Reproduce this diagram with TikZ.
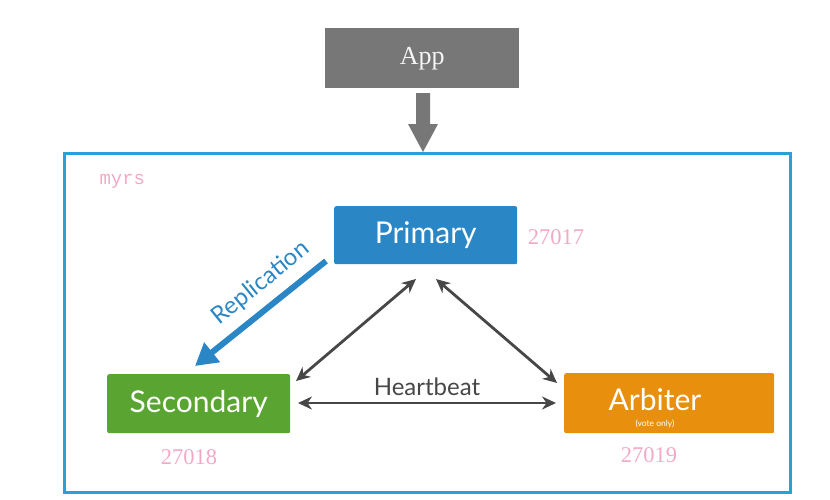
\documentclass[tikz,border=0pt]{standalone}
\usepackage{fontspec}
\setmainfont{Liberation Serif}
\newfontfamily\gill{Lato}
\newfontfamily\monof{Liberation Mono}
\usetikzlibrary{arrows.meta}
\definecolor{appgray}{HTML}{777777}
\definecolor{frameblue}{HTML}{2A9FD8}
\definecolor{primblue}{HTML}{2B86C5}
\definecolor{secgreen}{HTML}{5AA532}
\definecolor{arbor}{HTML}{E8900E}
\definecolor{portpink}{HTML}{F2A9C6}
\definecolor{hbgray}{HTML}{474747}
\tikzset{
  member/.style={rounded corners=2pt, text=white, font=\gill\fontsize{30}{32}\selectfont, inner sep=0pt, anchor=north west},
  port/.style={text=portpink, font=\fontsize{22.5}{24}\selectfont},
  hb/.style={draw=hbgray, line width=2.8pt, {Stealth[length=14pt,width=13pt]}-{Stealth[length=14pt,width=13pt]}}
}
\begin{document}
\begin{tikzpicture}[x=1pt,y=-1pt]
\useasboundingbox (0,0) rectangle (830,499);
% outer frame
\draw[frameblue, line width=3pt] (64,153) rectangle (790,492);
\node[anchor=west, text=portpink, font=\monof\fontsize{19}{21}\selectfont] (rs) at (96,181) {myrs};
% App
\node[fill=appgray, minimum width=194pt, minimum height=60pt, anchor=north west, inner sep=0pt, text=white!92!gray, font=\fontsize{26}{28}\selectfont] (app) at (325,28) {App};
\coordinate (frametop) at (423,152);
\fill[appgray] (416,93) -- (430,93) -- (430,124) -- (438,124) -- (423,152) -- (408,124) -- (416,124) -- cycle;
% members
\node[member, fill=primblue, minimum width=183pt, minimum height=58pt] (p) at (334,206) {Primary};
\node[member, fill=secgreen, minimum width=183pt, minimum height=59pt] (s) at (107,374) {Secondary};
\node[member, fill=arbor, minimum width=210pt, minimum height=60pt] (a) at (564,373) {};
\node[text=white, font=\gill\fontsize{30}{32}\selectfont] (at) at (655,400) {Arbiter};
\node[text=white, font=\gill\fontsize{8.5}{9}\selectfont] (av) at (655,424) {(vote only)};
% ports
\node[port] (p1) at (556,237) {27017};
\node[port] (p2) at (189,457) {27018};
\node[port] (p3) at (649,455) {27019};
% heartbeat arrows
\coordinate (pl) at (416,279);
\coordinate (pr) at (436,279);
\coordinate (sl) at (296,381);
\coordinate (ar) at (557,383);
\coordinate (sh) at (298,403);
\coordinate (ah) at (556,403);
\draw[hb] (pl) -- (sl);
\draw[hb] (pr) -- (ar);
\draw[hb] (sh) -- (ah);
\node[text=hbgray, font=\gill\fontsize{24}{26}\selectfont] (hbl) at (427,387) {Heartbeat};
% replication
\coordinate (r1) at (326,261);
\coordinate (r2) at (195,366);
\draw[primblue, line width=6pt, -{Triangle[length=22pt,width=24pt]}] (r1) -- (r2);
\node[text=primblue, font=\gill\fontsize{24}{26}\selectfont, rotate=39] (rl) at (261,283) {Replication};
\end{tikzpicture}
\end{document}
